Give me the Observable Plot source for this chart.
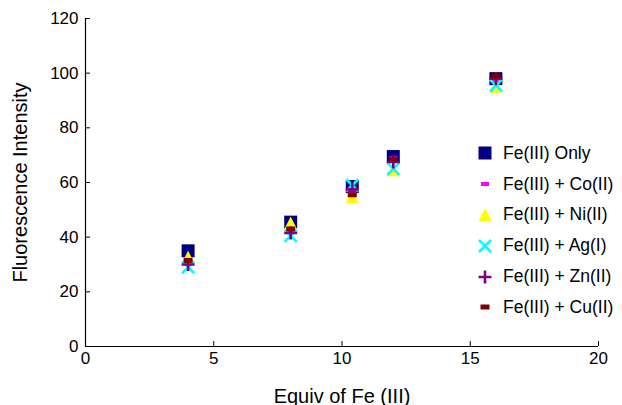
<!DOCTYPE html>
<html>
<head>
<meta charset="utf-8">
<script src="https://cdn.jsdelivr.net/npm/d3@7"></script>
<script src="https://cdn.jsdelivr.net/npm/@observablehq/plot@0.6"></script>
<style>
  html, body { margin: 0; padding: 0; background: #fff; }
  #wrap { position: relative; width: 622px; height: 405px; font-family: "Liberation Sans", Arial, sans-serif; }
  #wrap svg [aria-label="x-axis label"] text, #wrap svg [aria-label="y-axis label"] text { font-size: 20px; }
  #legend { position: absolute; left: 474px; top: 138px; font-size: 17.5px; color: #000; }
  #legend .row { display: flex; align-items: center; height: 30.8px; }
  #legend svg { width: 22px; height: 20px; margin-right: 7px; }
</style>
</head>
<body>
<div id="wrap"></div>
<script>
const equiv = [4, 8, 10.4, 12, 16];
const seriesNames = ["Fe(III) Only", "Fe(III) + Co(II)", "Fe(III) + Ni(II)", "Fe(III) + Ag(I)", "Fe(III) + Zn(II)", "Fe(III) + Cu(II)"];
const feOnly = [35, 45.5, 58.5, 69.5, 98];
const feCo   = [31, 42, 56, 69, 97.5];
const feNi   = [32.5, 45, 54.5, 64.5, 95];
const feAg   = [29, 40.5, 59, 65, 95.5];
const feZn   = [30, 41.5, 57.5, 67.5, 98];
const feCu   = [31.5, 43, 55.5, 68.5, 98.8];
const xTicks = [0, 5, 10, 15, 20];
const yTicks = [0, 20, 40, 60, 80, 100, 120];

const seriesValues = [feOnly, feCo, feNi, feAg, feZn, feCu];
const colors = ["#000080", "#ff00ff", "#ffff00", "#00ffff", "#800080", "#800000"];

const symSquare = {draw(c) { c.rect(-6.5, -6.5, 13, 13); }};
const symCo = {draw(c) { c.rect(-4, -2, 8, 4); }};
const symTri = {draw(c) { c.moveTo(0, -7); c.lineTo(6.5, 6); c.lineTo(-6.5, 6); c.closePath(); }};
const symTimes = {draw(c) { c.moveTo(-6, -6); c.lineTo(6, 6); c.moveTo(6, -6); c.lineTo(-6, 6); }};
const symPlus = {draw(c) { c.moveTo(-6.5, 0); c.lineTo(6.5, 0); c.moveTo(0, -6.5); c.lineTo(0, 6.5); }};
const symCu = {draw(c) { c.rect(-4.5, -2.5, 9, 5); }};
const symbols = [symSquare, symCo, symTri, symTimes, symPlus, symCu];
const stroked = [false, false, false, true, true, false];

const rows = seriesNames.map((name, i) => equiv.map((x, j) => ({series: name, x, y: seriesValues[i][j]})));

const marks = [
  Plot.ruleY([0], {stroke: "#000", strokeWidth: 1.2}),
  Plot.ruleX([0], {stroke: "#000", strokeWidth: 1.2}),
  Plot.axisX({ticks: xTicks, tickSize: -5, tickPadding: 10, tickFormat: d => d, label: "Equiv of Fe (III)", labelAnchor: "center", labelOffset: 56, labelArrow: "none"}),
  Plot.axisY({ticks: yTicks, tickSize: -5, tickPadding: 12, tickFormat: d => d, label: "Fluorescence Intensity", labelAnchor: "center", labelOffset: 73, labelArrow: "none"}),
  ...rows.map((data, i) => Plot.dot(data, {
    x: "x", y: "y", symbol: symbols[i], r: 5,
    fill: stroked[i] ? "none" : colors[i],
    stroke: stroked[i] ? colors[i] : "none",
    strokeWidth: stroked[i] ? 2.6 : 0
  }))
];

const chart = Plot.plot({
  width: 622, height: 405,
  marginLeft: 85, marginRight: 24, marginTop: 18, marginBottom: 59,
  x: {domain: [0, 20]},
  y: {domain: [0, 120]},
  style: {fontFamily: "Liberation Sans, Arial, sans-serif", fontSize: "17px", color: "#000", background: "#fff", overflow: "visible"},
  marks
});
const wrap = document.getElementById("wrap");
wrap.appendChild(chart);

// Legend
const legend = document.createElement("div");
legend.id = "legend";
seriesNames.forEach((name, i) => {
  const row = document.createElement("div");
  row.className = "row";
  const s = d3.create("svg").attr("viewBox", "-11 -10 22 20");
  const p = d3.path();
  symbols[i].draw(p);
  s.append("path").attr("d", p.toString())
    .attr("fill", stroked[i] ? "none" : colors[i])
    .attr("stroke", stroked[i] ? colors[i] : "none")
    .attr("stroke-width", stroked[i] ? 2.6 : 0);
  row.appendChild(s.node());
  const t = document.createElement("span");
  t.textContent = name;
  row.appendChild(t);
  legend.appendChild(row);
});
wrap.appendChild(legend);
</script>
</body>
</html>
